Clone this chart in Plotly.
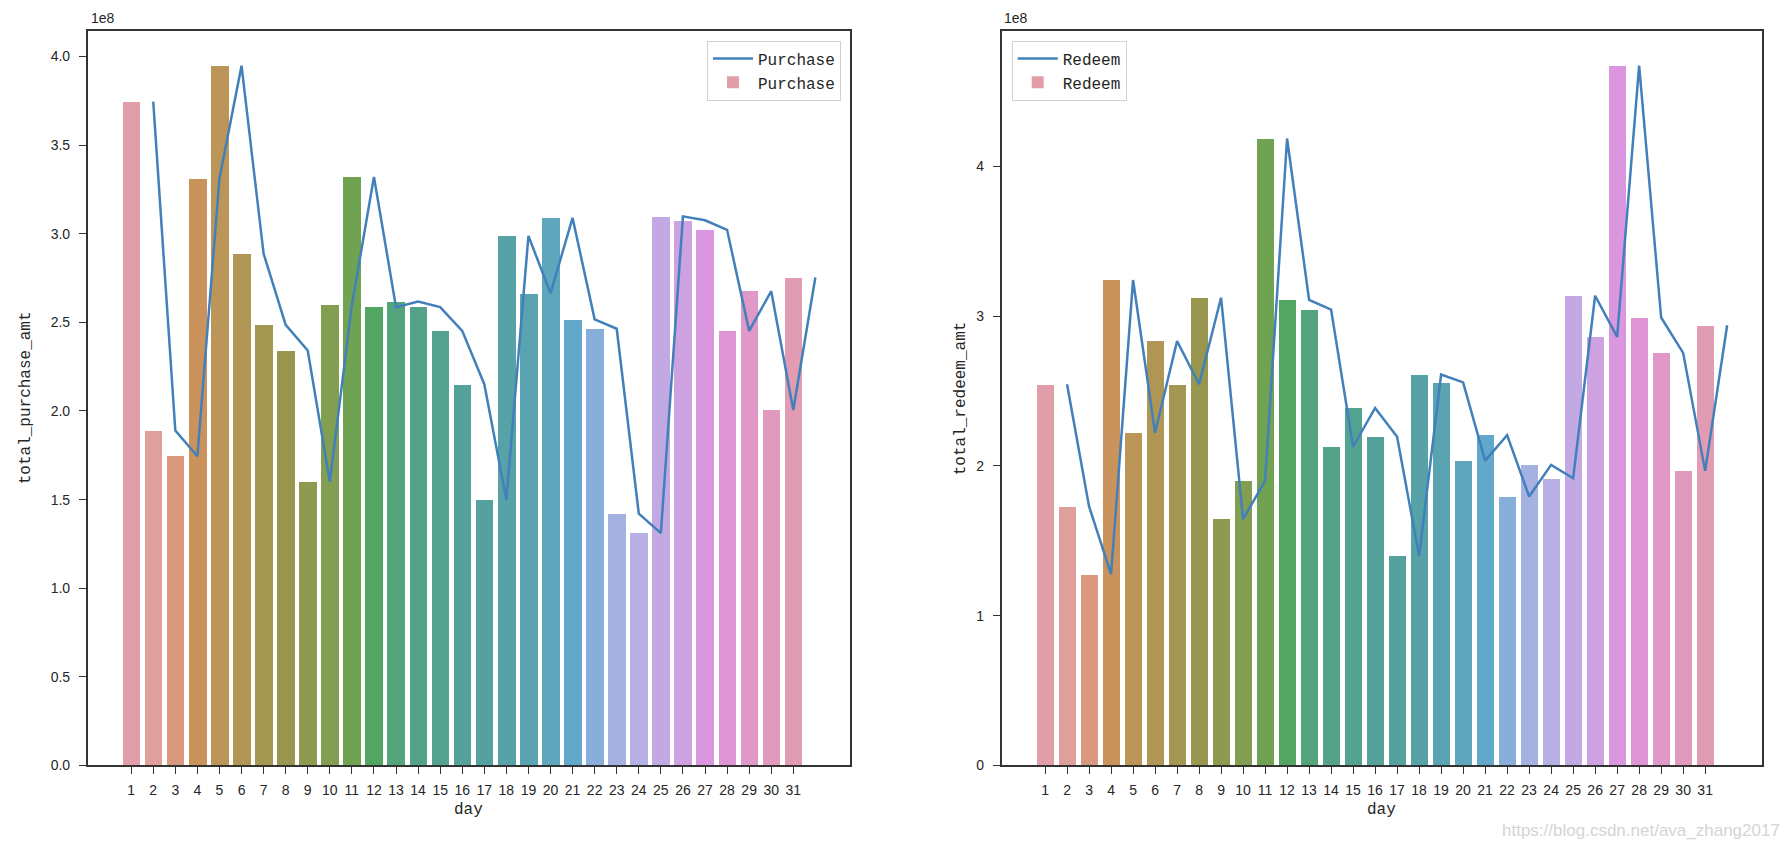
import math
import colorsys
import plotly.graph_objects as go

# ---------------- data ----------------
days = list(range(1, 32))
purchase_amt = [3.745e8, 1.890e8, 1.745e8, 3.312e8, 3.948e8, 2.888e8, 2.486e8, 2.341e8,
                1.600e8, 2.597e8, 3.321e8, 2.586e8, 2.618e8, 2.586e8, 2.452e8, 2.151e8,
                1.499e8, 2.988e8, 2.664e8, 3.089e8, 2.517e8, 2.464e8, 1.421e8, 1.311e8,
                3.098e8, 3.076e8, 3.022e8, 2.452e8, 2.676e8, 2.006e8, 2.754e8]
redeem_amt = [2.545e8, 1.730e8, 1.277e8, 3.241e8, 2.221e8, 2.834e8, 2.545e8, 3.123e8,
              1.645e8, 1.900e8, 4.186e8, 3.109e8, 3.044e8, 2.128e8, 2.387e8, 2.195e8,
              1.398e8, 2.610e8, 2.558e8, 2.035e8, 2.206e8, 1.796e8, 2.007e8, 1.918e8,
              3.136e8, 2.862e8, 4.672e8, 2.991e8, 2.755e8, 1.967e8, 2.939e8]
purchase_ticks = [0.0, 0.5, 1.0, 1.5, 2.0, 2.5, 3.0, 3.5, 4.0]
purchase_ticklabels = ["0.0", "0.5", "1.0", "1.5", "2.0", "2.5", "3.0", "3.5", "4.0"]
redeem_ticks = [0, 1, 2, 3, 4]
redeem_ticklabels = ["0", "1", "2", "3", "4"]
offset = 1e8

# ---------------- husl palette (seaborn style) ----------------
M = [[3.2406, -1.5372, -0.4986], [-0.9689, 1.8758, 0.0415], [0.0557, -0.2040, 1.0570]]
refY, refU, refV = 1.0, 0.19784, 0.46834
lab_e, lab_k = 0.008856, 903.3


def max_chroma(L, H):
    hrad = math.radians(H)
    sinH, cosH = math.sin(hrad), math.cos(hrad)
    sub1 = (L + 16) ** 3 / 1560896.0
    sub2 = sub1 if sub1 > lab_e else L / lab_k
    result = float("inf")
    for m1, m2, m3 in M:
        top = (0.99915 * m1 + 1.05122 * m2 + 1.14460 * m3) * sub2
        rb = 0.86330 * m3 - 0.17266 * m2
        lb = 0.12949 * m3 - 0.38848 * m1
        bottom = (rb * sinH + lb * cosH) * sub2
        for t in (0.0, 1.0):
            C = L * (top - 1.05122 * t) / (bottom + 0.17266 * sinH * t)
            if 0.0 < C < result:
                result = C
    return result


def f_inv(t):
    return refY * ((t + 16) / 116.0) ** 3 if t > 8 else refY * t / lab_k


def from_linear(c):
    return 12.92 * c if c <= 0.0031308 else 1.055 * c ** (1 / 2.4) - 0.055


def husl_to_rgb(H, S, L):
    C = max_chroma(L, H) / 100.0 * S
    U = C * math.cos(math.radians(H))
    V = C * math.sin(math.radians(H))
    varY = f_inv(L)
    varU = U / (13 * L) + refU
    varV = V / (13 * L) + refV
    Y = varY * refY
    X = 0.0 - (9.0 * Y * varU) / ((varU - 4.0) * varV - varU * varV)
    Z = (9.0 * Y - 15.0 * varV * Y - varV * X) / (3.0 * varV)
    rgb = [from_linear(r[0] * X + r[1] * Y + r[2] * Z) for r in M]
    return [min(1, max(0, c)) for c in rgb]


def husl_palette(n, h=0.01, s=0.9, l=0.7, sat=0.6):
    cols = []
    for i in range(n):
        hue = ((i / n) + h) % 1 * 359
        r, g, b = husl_to_rgb(hue, s * 99, l * 99)
        hh, ll, ss = colorsys.rgb_to_hls(r, g, b)
        r, g, b = colorsys.hls_to_rgb(hh, ll, ss * sat)
        cols.append("rgb(%d,%d,%d)" % (round(r * 255), round(g * 255), round(b * 255)))
    return cols


colors = husl_palette(len(days))
line_color = "#4180ba"

# ---------------- layout geometry ----------------
W, H = 1788, 858
def px(x):
    return x / W
def py(y):
    return 1 - y / H

xdom1 = [px(87.7), px(850)]
xdom2 = [px(1001.7), px(1761.7)]
ydom = [py(772.7), py(31)]

pos = list(range(len(days)))
line_x = [p + 1 for p in pos]
xlo = -0.4
xhi = max(line_x)
span = xhi - xlo
xrange_ = [xlo - 0.05 * span, xhi + 0.05 * span]

fig = go.Figure()

tick_font = dict(family="Liberation Sans", size=14, color="#262626")
mono = dict(family="Liberation Mono", size=16, color="#262626")

for k, (vals, name, xa, ya, leg) in enumerate([
        (purchase_amt, "Purchase", "x", "y", "legend"),
        (redeem_amt, "Redeem", "x2", "y2", "legend2")]):
    fig.add_trace(go.Bar(x=pos, y=vals, width=0.8, marker=dict(color=colors, line=dict(width=0)),
                         name=name, xaxis=xa, yaxis=ya, legend=leg, legendrank=2,
                         showlegend=True))
    fig.add_trace(go.Scatter(x=line_x, y=vals, mode="lines", line=dict(color=line_color, width=2.5),
                             name=name, xaxis=xa, yaxis=ya, legend=leg, legendrank=1))

axis_common = dict(showline=True, mirror=True, linecolor="#333333", linewidth=1.5,
                   ticks="outside", ticklen=7, tickwidth=1.2, tickcolor="#333333",
                   showgrid=False, zeroline=False, tickfont=tick_font)

ymax1 = max(purchase_amt) * 1.05
ymax2 = max(redeem_amt) * 1.05

leg_common = dict(yanchor="top", font=mono, bordercolor="#d0d0d0", borderwidth=1,
                  bgcolor="rgba(255,255,255,0.8)", traceorder="normal", itemwidth=40,
                  tracegroupgap=4)

fig.update_layout(
    width=W, height=H, margin=dict(l=0, r=0, t=0, b=0),
    plot_bgcolor="white", paper_bgcolor="white", bargap=0,
    xaxis=dict(domain=xdom1, anchor="y", range=xrange_, tickvals=pos,
               ticktext=[str(d) for d in days], ticklabelstandoff=4, **axis_common),
    yaxis=dict(domain=ydom, anchor="x", range=[0, ymax1],
               tickvals=[t * offset for t in purchase_ticks], ticktext=purchase_ticklabels,
               ticklabelstandoff=6, **axis_common),
    xaxis2=dict(domain=xdom2, anchor="y2", range=xrange_, tickvals=pos,
                ticktext=[str(d) for d in days], ticklabelstandoff=4, **axis_common),
    yaxis2=dict(domain=ydom, anchor="x2", range=[0, ymax2],
                tickvals=[t * offset for t in redeem_ticks], ticktext=redeem_ticklabels,
                ticklabelstandoff=6, **axis_common),
    legend=dict(x=px(841), y=py(41), xanchor="right", **leg_common),
    legend2=dict(x=px(1011.7), y=py(41), xanchor="left", **leg_common),
    showlegend=True,
)

annos = [
    dict(text="1e8", x=px(89), y=py(18), xanchor="left", yanchor="middle", font=tick_font),
    dict(text="1e8", x=px(1002), y=py(18), xanchor="left", yanchor="middle", font=tick_font),
    dict(text="total_purchase_amt", x=px(26), y=py(402), textangle=-90, xanchor="center",
         yanchor="middle", font=mono),
    dict(text="total_redeem_amt", x=px(961), y=py(402), textangle=-90, xanchor="center",
         yanchor="middle", font=mono),
    dict(text="day", x=(xdom1[0] + xdom1[1]) / 2, y=py(818), xanchor="center", yanchor="middle", font=mono),
    dict(text="day", x=(xdom2[0] + xdom2[1]) / 2, y=py(818), xanchor="center", yanchor="middle", font=mono),
    dict(text="https://blog.csdn.net/ava_zhang2017", x=px(1782), y=py(838), xanchor="right",
         yanchor="middle", font=dict(family="Liberation Sans", size=17, color="#d4d4d4")),
]
for a in annos:
    a.update(xref="paper", yref="paper", showarrow=False)
fig.update_layout(annotations=annos)

fig.write_html("out.html", config={"displayModeBar": False},
               post_script="document.body.style.margin='0';")
